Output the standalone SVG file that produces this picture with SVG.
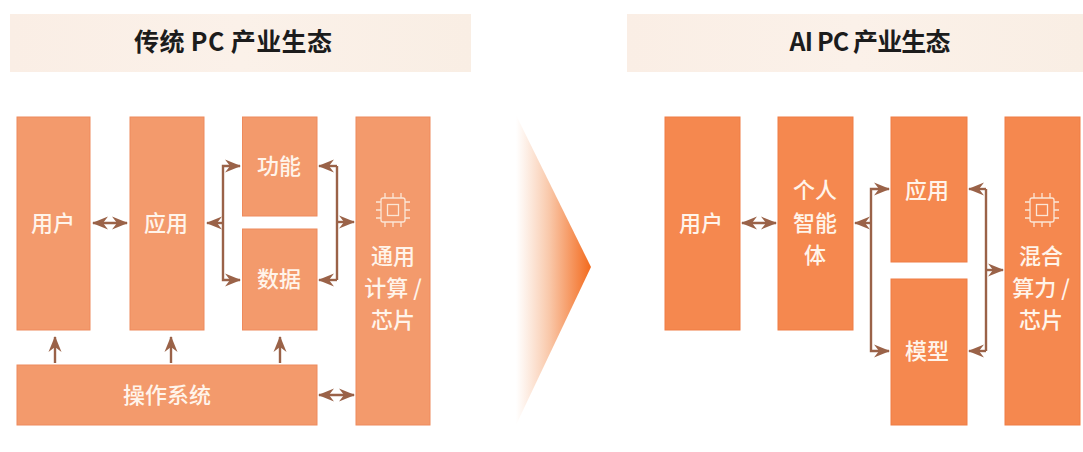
<svg xmlns="http://www.w3.org/2000/svg" width="1083" height="452" viewBox="0 0 1083 452">
<style>
.a{fill:#f39a6c;stroke:#ee8a5c;stroke-width:1}
.b{fill:#f5884f;stroke:#ef7c44;stroke-width:1}
.h{fill:url(#hg)}
.t{font-family:"Noto Sans CJK SC","Liberation Sans",sans-serif;font-size:22px;fill:#fff4ea;text-anchor:middle;font-weight:500}
.ht{font-family:"Noto Sans CJK SC","Liberation Sans",sans-serif;font-size:25px;fill:#1c1c1c;text-anchor:middle;font-weight:700}
.c{fill:none;stroke:#9a6248;stroke-width:2.400}
.i{fill:none;stroke:#fbe6d6;stroke-width:1.300}
</style>
<defs>
<linearGradient id="hg" x1="0" x2="1" y1="0" y2="0"><stop offset="0" stop-color="#faeee5"/><stop offset="0.5" stop-color="#fbf1e9"/><stop offset="1" stop-color="#f9eee4"/></linearGradient>
<linearGradient id="tri" x1="0" x2="1" y1="0" y2="0"><stop offset="0" stop-color="#fff" stop-opacity="0.9"/><stop offset="0.45" stop-color="#f9c7a8"/><stop offset="1" stop-color="#f36a1d"/></linearGradient>
<marker id="ah" viewBox="0 0 16 14" refX="15" refY="7" markerWidth="16" markerHeight="14" orient="auto-start-reverse" markerUnits="userSpaceOnUse"><path d="M0 0.500 L16 7 L0 13.500 L5 7Z" fill="#9a6248"/></marker>
<g id="chip"><rect x="-12" y="-12" width="24" height="24" rx="2" class="i"/><rect x="-5.500" y="-5.500" width="11" height="11" class="i"/><path class="i" d="M-8-12v-5M0-12v-5M8-12v-5M-8 12v5M0 12v5M8 12v5M-12-8h-5M-12 0h-5M-12 8h-5M12-8h5M12 0h5M12 8h5"/></g>
</defs>
<rect width="1083" height="452" fill="#fff"/>
<g id="header-left"><rect class="h" x="10" y="14" width="461" height="58"/><text class="ht" x="233" y="51" textLength="198" lengthAdjust="spacing">传统 PC 产业生态</text></g>
<g id="header-right"><rect class="h" x="627" y="14" width="456" height="58"/><text class="ht" x="870" y="51" textLength="161" lengthAdjust="spacing">AI PC 产业生态</text></g>
<g id="transition-arrow"><path d="M516 115 L591 267 L516 425Z" fill="url(#tri)"/></g>

<g id="l-user"><rect class="a" x="17" y="117" width="73" height="213"/><text class="t" x="53" y="231">用户</text></g>
<g id="l-app"><rect class="a" x="130" y="117" width="74" height="213"/><text class="t" x="166" y="231">应用</text></g>
<g id="l-func"><rect class="a" x="242.500" y="117" width="74.500" height="99"/><text class="t" x="279" y="174">功能</text></g>
<g id="l-data"><rect class="a" x="242.500" y="229" width="74.500" height="101"/><text class="t" x="279" y="287">数据</text></g>
<g id="l-os"><rect class="a" x="17" y="365" width="300" height="60"/><text class="t" x="167" y="403">操作系统</text></g>
<g id="l-chip"><rect class="a" x="356" y="117" width="74" height="308"/><use href="#chip" x="393" y="210"/><text class="t" x="393" y="264">通用</text><text class="t" x="393" y="296">计算 /</text><text class="t" x="393" y="328">芯片</text></g>

<g id="r-user"><rect class="b" x="665" y="117" width="75" height="213"/><text class="t" x="701" y="231">用户</text></g>
<g id="r-agent"><rect class="b" x="778" y="117" width="75" height="213"/><text class="t" x="815" y="198">个人</text><text class="t" x="815" y="231">智能</text><text class="t" x="815" y="263">体</text></g>
<g id="r-app"><rect class="b" x="891" y="117" width="76" height="145"/><text class="t" x="927" y="198">应用</text></g>
<g id="r-model"><rect class="b" x="891" y="279" width="76" height="146"/><text class="t" x="927" y="359">模型</text></g>
<g id="r-chip"><rect class="b" x="1005" y="117" width="75" height="308"/><use href="#chip" x="1042" y="210"/><text class="t" x="1041" y="264">混合</text><text class="t" x="1041" y="296">算力 /</text><text class="t" x="1041" y="328">芯片</text></g>

<g id="connectors" class="c">
<path class="c" marker-start="url(#ah)" marker-end="url(#ah)" d="M93 223H127"/>
<path class="c" marker-end="url(#ah)" d="M223 223H207"/>
<path class="c" marker-start="url(#ah)" marker-end="url(#ah)" d="M240 166H223V280H240"/>
<path class="c" marker-end="url(#ah)" d="M337 166H319"/>
<path class="c" marker-end="url(#ah)" d="M337 280H319"/>
<path class="c" d="M337 166V280"/>
<path class="c" marker-end="url(#ah)" d="M337 222H354"/>
<path class="c" marker-end="url(#ah)" d="M55 363V337"/>
<path class="c" marker-end="url(#ah)" d="M171 363V337"/>
<path class="c" marker-end="url(#ah)" d="M280 363V337"/>
<path class="c" marker-start="url(#ah)" marker-end="url(#ah)" d="M319 395H354"/>
<path class="c" marker-start="url(#ah)" marker-end="url(#ah)" d="M742 223H776"/>
<path class="c" marker-end="url(#ah)" d="M871 223H855"/>
<path class="c" marker-start="url(#ah)" marker-end="url(#ah)" d="M889 189H871V351H889"/>
<path class="c" marker-end="url(#ah)" d="M986 189H969"/>
<path class="c" marker-end="url(#ah)" d="M986 351H969"/>
<path class="c" d="M986 189V351"/>
<path class="c" marker-end="url(#ah)" d="M986 270H1003"/>
</g>
</svg>
